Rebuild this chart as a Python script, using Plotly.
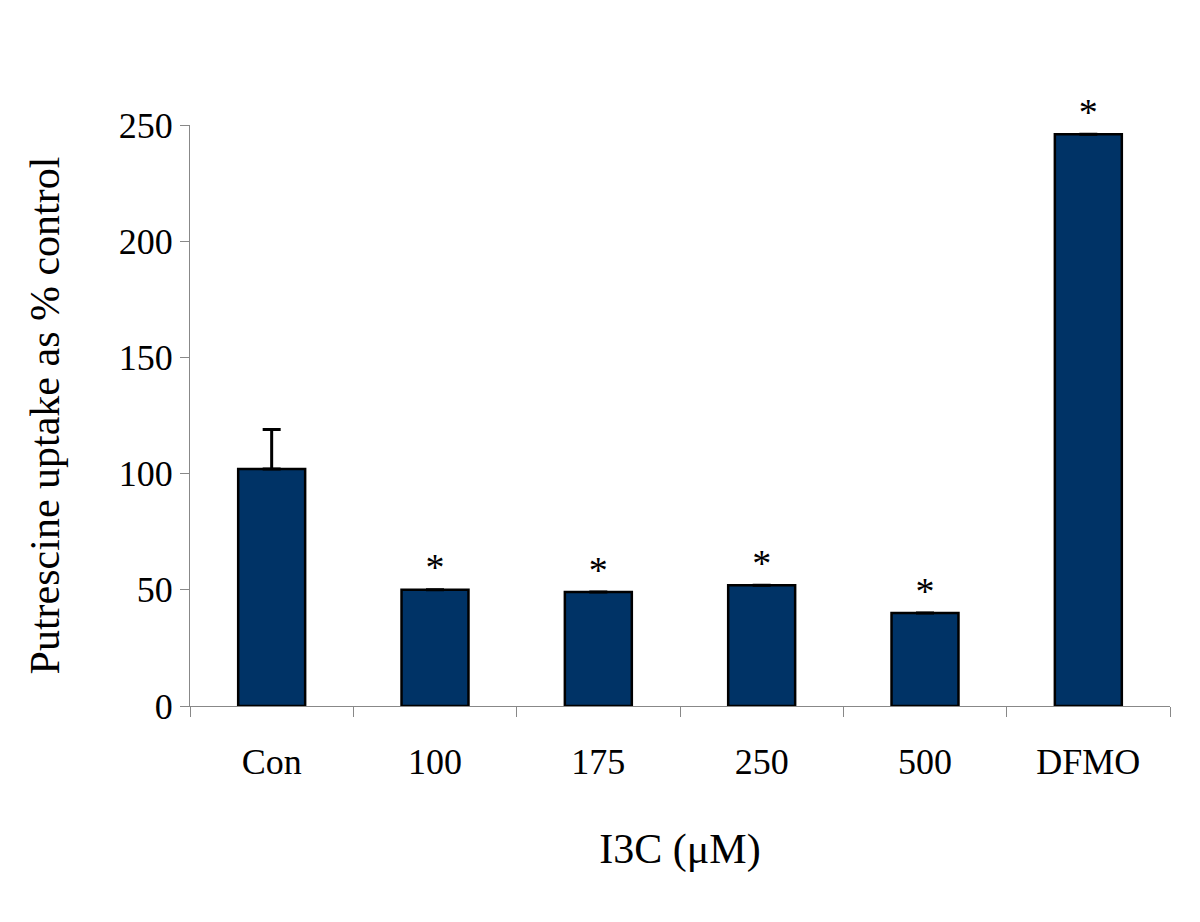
import plotly.graph_objects as go

groups = ["Con", "100", "175", "250", "500", "DFMO"]
uptake = [102, 50, 49, 52, 40, 246]
err_up = [17, 0, 0, 0, 0, 0]
marks = ["", "*", "*", "*", "*", "*"]

serif = "Liberation Serif, Times New Roman, serif"

fig = go.Figure()
fig.add_trace(go.Bar(
    x=groups, y=uptake, width=0.41,
    marker=dict(color="#003366", line=dict(color="black", width=2.5)),
    error_y=dict(type="data", array=err_up, arrayminus=[0]*6, symmetric=False,
                 color="black", thickness=3, width=9),
))
fig.add_trace(go.Scatter(
    x=groups, y=uptake, mode="text", text=marks, textposition="top center",
    textfont=dict(family=serif, size=38, color="black"), cliponaxis=False,
))

fig.update_layout(
    width=1200, height=922,
    paper_bgcolor="white", plot_bgcolor="white",
    margin=dict(l=182, r=38, t=117, b=224),
    showlegend=False,
    font=dict(family=serif, color="black"),
    xaxis=dict(
        type="category", tickson="boundaries", ticks="outside", ticklen=10,
        tickcolor="#888", showline=True, linecolor="#888", linewidth=1,
        tickfont=dict(size=36), ticklabelstandoff=24,
        title=dict(text="I3C (μM)", font=dict(size=42), standoff=52),
        showgrid=False,
    ),
    yaxis=dict(
        range=[0, 250], tickvals=[0, 50, 100, 150, 200, 250],
        ticks="outside", ticklen=9, tickcolor="#888",
        showline=True, linecolor="#888", linewidth=1,
        tickfont=dict(size=36), showgrid=False, zeroline=False,
        title=dict(text="Putrescine uptake as % control", font=dict(size=42), standoff=46),
    ),
)

fig.write_html("out.html")
